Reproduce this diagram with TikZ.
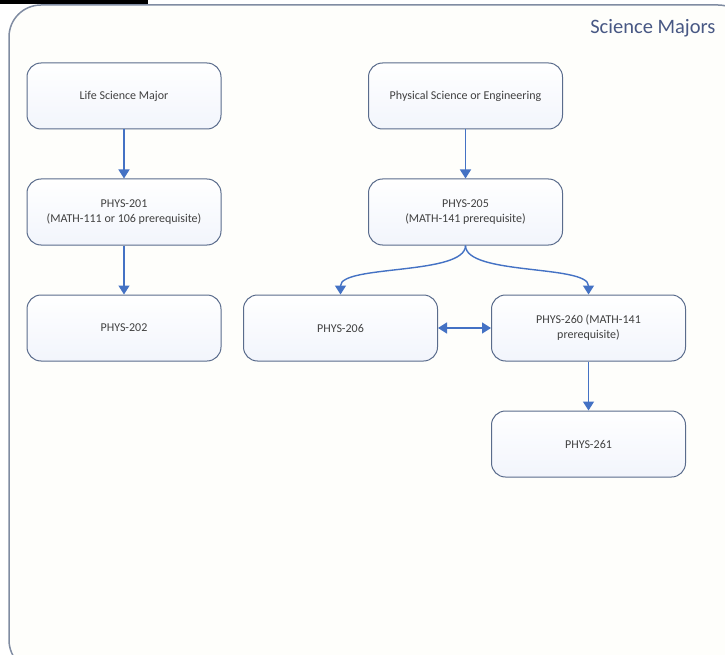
\documentclass[tikz,border=0pt]{standalone}
\usepackage{fontspec}
\setmainfont{Carlito}
\usetikzlibrary{arrows.meta,positioning}
\definecolor{framegray}{RGB}{128,140,162}
\definecolor{boxline}{RGB}{90,108,140}
\definecolor{arrowblue}{RGB}{68,114,196}
\definecolor{titleblue}{RGB}{72,88,132}
\definecolor{boxfill}{RGB}{242,245,252}
\definecolor{textgray}{RGB}{64,64,64}

\begin{document}
\begin{tikzpicture}[x=1pt, y=-1pt,
  course/.style={draw=boxline, line width=1pt, rounded corners=14pt, top color=white, bottom color=boxfill, minimum width=194pt, minimum height=66pt, align=center, text=textgray, font=\fontsize{12}{15}\selectfont},
  link/.style={draw=arrowblue, line width=1.4pt, -{Triangle[width=11pt,length=9pt]}},
  node distance=49pt
]
\useasboundingbox (0,0) rectangle (725,655);
% outer frame
\begin{scope}
  \clip (0,0) rectangle (725,655);
  \draw[framegray, line width=1.5pt, rounded corners=32pt, fill={rgb,255:red,254;green,254;blue,251}] (9,5) rectangle (750,672);
\end{scope}
\fill[black] (0,0) rectangle (148,4.5);
\node[anchor=east, text=titleblue, font=\fontsize{20.5}{24}\selectfont] (title) at (719,28) {Science Majors};

% left column
\node[course] (life) at (124,96) {Life Science Major};
\node[course, below=of life] (p201) {PHYS-201\\(MATH-111 or 106 prerequisite)};
\node[course, below=of p201] (p202) {PHYS-202};

% right column
\node[course] (phys) at (465.5,96) {Physical Science or Engineering};
\node[course, below=of phys] (p205) {PHYS-205\\(MATH-141 prerequisite)};
\node[course, below=of p205, xshift=-125pt] (p206) {PHYS-206};
\node[course, right=53pt of p206] (p260) {PHYS-260 (MATH-141\\prerequisite)};
\node[course, below=of p260] (p261) {PHYS-261};

% arrows
\draw[link] (life) -- (p201);
\draw[link] (p201) -- (p202);
\draw[link] (phys) -- (p205);
\draw[link] (p205.south) .. controls +(0,30) and +(0,-30) .. (p206.north);
\draw[link] (p205.south) .. controls +(0,30) and +(0,-30) .. (p260.north);
\draw[link, {Triangle[width=11pt,length=9pt]}-{Triangle[width=11pt,length=9pt]}] (p206) -- (p260);
\draw[link] (p260) -- (p261);
\end{tikzpicture}
\end{document}
